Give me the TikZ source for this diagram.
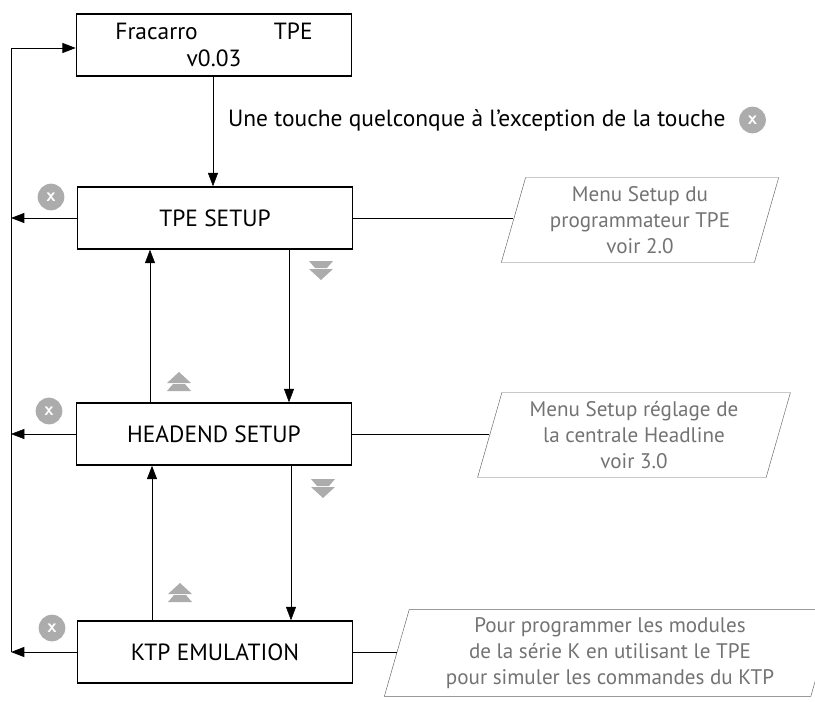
\documentclass[tikz,border=0pt]{standalone}
\usepackage{fontspec}
\setmainfont{PT Sans}
\usetikzlibrary{positioning,arrows.meta,shapes.geometric}
\begin{document}
\begin{tikzpicture}[
        x=0.03cm, y=-0.03cm,
        every node/.style={font=\fontsize{20}{23}\selectfont, align=center},
        box/.style={rectangle, draw=black, line width=1.3pt, fill=white, minimum width=8.25cm, minimum height=1.86cm},
        note/.style={trapezium, trapezium left angle=74, trapezium right angle=106, draw=gray!80!black, text=gray!90!black, inner sep=0pt, font=\fontsize{18}{22}\selectfont},
        arrow/.style={-{Triangle[length=4mm,width=3mm]}},
        cancel/.style={circle, fill=gray!65, text=white, inner sep=0pt, minimum size=8mm, font=\fontsize{16}{16}\bfseries\sffamily},
        chev/.style={fill=gray!65, draw=none}
    ]
    \useasboundingbox (0,0) rectangle (815,701);

    % Menus
    \node[box] (head) at (214,45) {Fracarro\hspace{65pt}TPE\\v0.03};
    \node[box] (tpe) at (215,218) {TPE SETUP};
    \node[box] (headend) at (214,434) {HEADEND SETUP};
    \node[box] (ktp) at (215,652) {KTP EMULATION};

    % Notes
    \node[note, minimum width=7.6cm, minimum height=2.55cm] (ntpe) at (640,220) {Menu Setup du\\programmateur TPE\\voir 2.0};
    \node[note, minimum width=7.6cm, minimum height=2.55cm] (nheadend) at (634,435) {Menu Setup réglage de\\la centrale Headline\\voir 3.0};
    \node[note, minimum width=11.8cm, minimum height=2.6cm] (nktp) at (610,653) {Pour programmer les modules\\de la série K en utilisant le TPE\\pour simuler les commandes du KTP};

    % Left return line
    \coordinate (top) at (11,48);
    \coordinate (ltpe) at (11,218);
    \coordinate (lheadend) at (11,434);
    \coordinate (lktp) at (11,652);
    \draw[thick] (lktp) -- (top);
    \draw[arrow, thick] (top) -- (head.west |- top);
    \draw[arrow, thick] (tpe.west) -- (ltpe);
    \draw[arrow] (headend.west) -- (lheadend);
    \draw[arrow, thick] (ktp.west) -- (lktp);

    % Arrows between menus
    \draw[arrow] (head.south -| 213,0) -- (tpe.north -| 213,0);
    \node[anchor=west] (any) at (224,120) {Une touche quelconque à l'exception de la touche};
    \node[cancel, right=8pt of any] (xany) {x};
    \draw[arrow] (tpe.south -| 289,0) -- (headend.north -| 289,0);
    \draw[arrow] (headend.south -| 291,0) -- (ktp.north -| 291,0);
    \draw[arrow] (headend.north -| 150,0) -- (tpe.south -| 150,0);
    \draw[arrow, thick] (ktp.north -| 152,0) -- (headend.south -| 152,0);

    % Notes links
    \draw[thick] (tpe.east) -- (ntpe.west |- tpe.east);
    \draw (headend.east) -- (nheadend.west |- headend.east);
    \draw (ktp.east) -- (nktp.west |- ktp.east);

    % Cancel keys
    \node[cancel] (xtpe) at (51,197) {x};
    \node[cancel] (xheadend) at (49,411) {x};
    \node[cancel] (xktp) at (52,628) {x};

    % Key chevrons
    \foreach \cx/\cy in {321/270, 323/488} {
        \fill[chev] (\cx-12,\cy-9) -- (\cx+12,\cy-9) -- (\cx+6,\cy-2) -- (\cx-6,\cy-2) -- cycle;
        \fill[chev] (\cx-12,\cy-1) -- (\cx+12,\cy-1) -- (\cx,\cy+10) -- cycle;
    }
    \foreach \cx/\cy in {179/382, 180/593} {
        \fill[chev] (\cx-12,\cy+9) -- (\cx+12,\cy+9) -- (\cx+6,\cy+2) -- (\cx-6,\cy+2) -- cycle;
        \fill[chev] (\cx-12,\cy+1) -- (\cx+12,\cy+1) -- (\cx,\cy-10) -- cycle;
    }
\end{tikzpicture}
\end{document}
